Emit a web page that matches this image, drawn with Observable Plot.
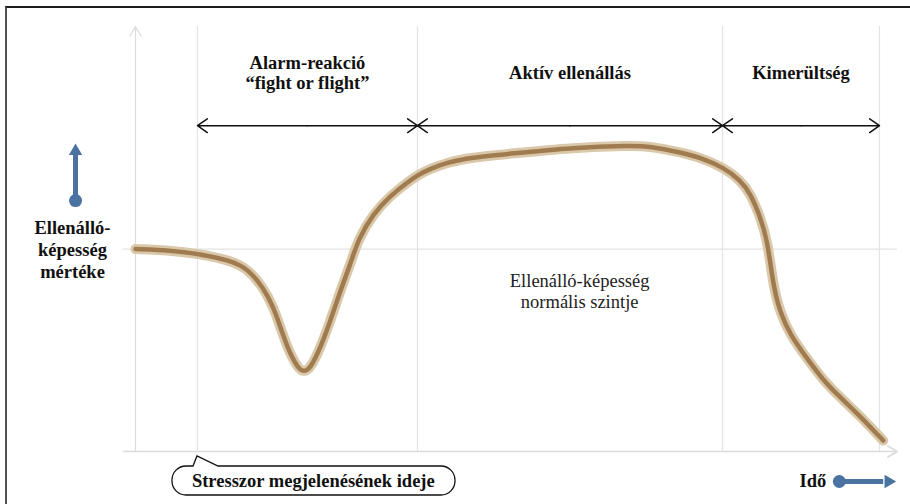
<!DOCTYPE html>
<html><head><meta charset="utf-8">
<script src="https://cdn.jsdelivr.net/npm/d3@7"></script>
<script src="https://cdn.jsdelivr.net/npm/@observablehq/plot@0.6"></script>
<style>
html,body{margin:0;padding:0;background:#fff;overflow:hidden;}
#wrap{position:relative;width:910px;height:504px;overflow:hidden;}
#frame{position:absolute;left:5px;top:6px;width:1000px;height:1000px;border-top:2px solid #1c1c1c;border-left:2px solid #505050;pointer-events:none;z-index:2;}
#chart{position:absolute;left:0;top:0;}
#chart svg text{font-family:"Liberation Serif","Times New Roman","DejaVu Serif",serif !important;}
</style></head><body><div id="wrap"><div id="frame"></div><div id="chart"></div></div>
<script>
// Time (arbitrary units, 0 = start, 100 = end of exhaustion) and resistance level (normal = 50)
const time = [0, 4.7, 8.33, 12.77, 15.05, 17.2, 18.55, 19.49, 20.56, 21.77, 22.58, 23.52, 24.87, 26.21, 27.55, 28.9, 29.97, 31.99, 34.27, 36.56, 38.04, 39.65, 41.94, 45.03, 50.4, 58.87, 66.53, 69.2, 73.25, 75.94, 79.03, 81.32, 82.66, 84.0, 84.95, 85.75, 86.69, 88.04, 90.05, 92.47, 94.76, 97.04, 100.5];
const resistance = [50, 49.7, 48.9, 47.2, 45.2, 40.5, 35.6, 30.6, 25.0, 20.75, 19.6, 20.5, 25.7, 32.4, 39.8, 46.4, 52.6, 58.8, 63.2, 66.5, 68.4, 69.9, 71.4, 72.6, 73.6, 75.1, 75.6, 75.4, 73.9, 72.6, 70.2, 67.0, 63.7, 57.8, 52.1, 40.5, 34.1, 28.7, 23.5, 17.5, 13.3, 9.4, 2.7];
const phaseBounds = [8.33, 37.9, 78.9, 100];
const phaseLabels = ["Alarm-reakció\n“fight or flight”", "Aktív ellenállás", "Kimerültség"];
const normalLevel = 50;
const yLabel = "Ellenálló-\nképesség\nmértéke";
const xLabel = "Idő";
const normalLabel = "Ellenálló-képesség\nnormális szintje";
const stressorLabel = "Stresszor megjelenésének ideje";

const FONT = "Liberation Serif, Times New Roman, DejaVu Serif, serif";
const BLUE = "#4a73a1";
const FS = 18.5;

const curve = time.map((t, i) => ({t, r: resistance[i]}));
const phases = phaseLabels.map((label, i) => ({label, a: phaseBounds[i], b: phaseBounds[i + 1], m: (phaseBounds[i] + phaseBounds[i + 1]) / 2}));
const halfArrows = phases.flatMap(p => [{x1: p.m, x2: p.a}, {x1: p.m, x2: p.b}]);
const phaseArrowY = 80.5, titleY = 93.6, annY = -7.41;

const chart = Plot.plot({
  width: 910, height: 504,
  marginLeft: 135, marginRight: 31, marginTop: 26, marginBottom: 53,
  x: {domain: [0, 100], axis: null},
  y: {domain: [0, 105], axis: null},
  style: {background: "#fff", overflow: "visible", fontFamily: FONT},
  marks: [
    Plot.ruleX(phaseBounds, {y1: 0, y2: 105, stroke: "#e3e3e3", strokeWidth: 1.2}),
    Plot.ruleY([normalLevel], {x1: -1.6, x2: 102.4, stroke: "#e3e3e3", strokeWidth: 1.2}),
    Plot.arrow([{x1: 0, y1: 0, x2: 0, y2: 105}], {x1: "x1", y1: "y1", x2: "x2", y2: "y2", stroke: "#dcdcdc", strokeWidth: 1.2, headLength: 14}),
    Plot.arrow([{x1: -1.6, y1: 0, x2: 102.4, y2: 0}], {x1: "x1", y1: "y1", x2: "x2", y2: "y2", stroke: "#dcdcdc", strokeWidth: 1.5, headLength: 11}),
    Plot.line(curve, {x: "t", y: "r", curve: "basis", stroke: "#dac8aa", strokeWidth: 10, strokeLinecap: "round", strokeLinejoin: "round"}),
    Plot.line(curve, {x: "t", y: "r", curve: "basis", stroke: "#a07b4f", strokeWidth: 4.5, strokeLinecap: "round", strokeLinejoin: "round"}),
    Plot.arrow(halfArrows, {x1: "x1", x2: "x2", y1: phaseArrowY, y2: phaseArrowY, stroke: "#111", strokeWidth: 1.5, headLength: 12, headAngle: 70}),
    Plot.text(phases, {x: "m", y: titleY, text: "label", fontFamily: FONT, fontWeight: "bold", fontSize: FS, lineHeight: 1.08, fill: "#111"}),
    Plot.text([{t: normalLabel, x: 59.7, y: 39.7}], {x: "x", y: "y", text: "t", fontFamily: FONT, fontSize: FS, lineHeight: 1.14, fill: "#222"}),
    Plot.text([{t: yLabel, y: normalLevel}], {frameAnchor: "left", dx: -63, y: "y", text: "t", textAnchor: "middle", fontFamily: FONT, fontWeight: "bold", fontSize: FS, lineHeight: 1.19, fill: "#111"}),
    // vertical blue arrow
    Plot.link([{x: -8.06, y1: 62, y2: 73.6}], {x1: "x", x2: "x", y1: "y1", y2: "y2", stroke: BLUE, strokeWidth: 5}),
    Plot.dot([{x: -8.06, y: 62}], {x: "x", y: "y", r: 6.5, fill: BLUE}),
    Plot.dot([{x: -8.06, y: 74.2}], {x: "x", y: "y", r: 6.4, symbol: "triangle2", fill: BLUE}),
    // horizontal blue arrow
    Plot.link([{x1: 94.6, x2: 100.5, y: annY}], {x1: "x1", x2: "x2", y1: "y", y2: "y", stroke: BLUE, strokeWidth: 5}),
    Plot.dot([{x: 94.6, y: annY}], {x: "x", y: "y", r: 6.5, fill: BLUE}),
    Plot.dot([{x: 101.2, y: annY}], {x: "x", y: "y", r: 6.4, symbol: "triangle2", rotate: 90, fill: BLUE}),
    Plot.text([{t: xLabel, x: 94.6, y: annY}], {x: "x", y: "y", text: "t", dx: -13, textAnchor: "end", fontFamily: FONT, fontWeight: "bold", fontSize: FS, fill: "#111"}),
    Plot.text([{t: stressorLabel, x: 23.9, y: annY}], {x: "x", y: "y", text: "t", fontFamily: FONT, fontWeight: "bold", fontSize: FS, fill: "#111"})
  ]
});

// speech-bubble callout around the stressor label, pointing at the stressor time
const xs = chart.scale("x"), ys = chart.scale("y");
const tipX = xs.apply(phaseBounds[0]), tipY = ys.apply(0) + 5;
const L = tipX - 25, R = tipX + 258, T = tipY + 10, B = tipY + 39, rr = 14;
const p = d3.path();
p.moveTo(L + rr, T);
p.lineTo(tipX - 4, T);
p.lineTo(tipX, tipY);
p.lineTo(tipX + 21, T);
p.lineTo(R - rr, T);
p.arcTo(R, T, R, T + rr, rr);
p.lineTo(R, B - rr);
p.arcTo(R, B, R - rr, B, rr);
p.lineTo(L + rr, B);
p.arcTo(L, B, L, B - rr, rr);
p.lineTo(L, T + rr);
p.arcTo(L, T, L + rr, T, rr);
p.closePath();
d3.select(chart).insert("path", ":first-child").attr("d", p.toString()).attr("fill", "#fff").attr("stroke", "#111").attr("stroke-width", 1.3);

document.getElementById("chart").appendChild(chart);
</script></body></html>
